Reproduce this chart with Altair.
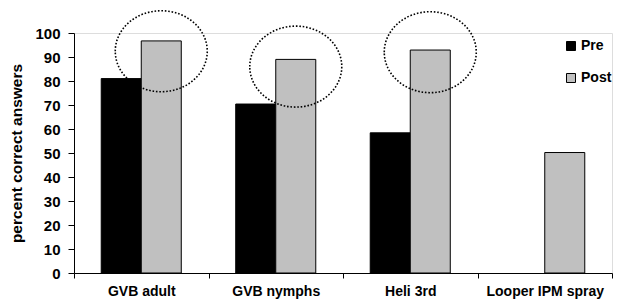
import altair as alt
import pandas as pd

categories = ["GVB adult", "GVB nymphs", "Heli 3rd", "Looper IPM spray"]
pre_values = [81, 70.4, 58.4, None]
post_values = [96.7, 89, 92.9, 50.2]
series_names = ["Pre", "Post"]
series_colors = ["#000000", "#C0C0C0"]
y_ticks = [0, 10, 20, 30, 40, 50, 60, 70, 80, 90, 100]

# dotted ellipses highlighting the post-test bars
ellipse_categories = ["GVB adult", "GVB nymphs", "Heli 3rd"]
ellipse_centers = [92.4, 86, 92]

rows = []
for c, a, b in zip(categories, pre_values, post_values):
    if a is not None:
        rows.append({"category": c, "series": "Pre", "value": a})
    if b is not None:
        rows.append({"category": c, "series": "Post", "value": b})
df = pd.DataFrame(rows)

edf = pd.DataFrame({"category": ellipse_categories, "series": "Post", "value": ellipse_centers})

FONT = "Liberation Sans"

x_enc = alt.X("category:N", sort=categories, title=None,
              scale=alt.Scale(paddingInner=0, paddingOuter=0),
              axis=alt.Axis(labelAngle=0, tickBand="extent", labelFontSize=14,
                            labelFontWeight="bold", labelFont=FONT, labelColor="#000",
                            domainColor="#000", tickColor="#000", tickSize=5,
                            labelPadding=6))
xoff_enc = alt.XOffset("series:N", sort=series_names,
                       scale=alt.Scale(domain=series_names, paddingInner=0, paddingOuter=0.68))
y_enc = alt.Y("value:Q", title="percent correct answers",
              scale=alt.Scale(domain=[0, 100], nice=False),
              axis=alt.Axis(values=y_ticks, tickCount=11, grid=False, labelOverlap=False,
                            labelFontSize=15, labelFontWeight="bold",
                            labelFont=FONT, labelColor="#000", domainColor="#000",
                            tickColor="#000", tickSize=6, labelPadding=8,
                            titleFont=FONT, titleFontSize=15.5, titleFontWeight="bold",
                            titleColor="#000", titlePadding=10))

bars = alt.Chart(df).mark_bar(stroke="#000", strokeWidth=1).encode(
    x=x_enc,
    xOffset=xoff_enc,
    y=y_enc,
    color=alt.Color("series:N", sort=series_names,
                    scale=alt.Scale(domain=series_names, range=series_colors),
                    legend=alt.Legend(title=None, orient="none", legendX=490, legendY=6,
                                      symbolType="square", symbolSize=81,
                                      symbolStrokeColor="#000", symbolStrokeWidth=1,
                                      labelFont=FONT, labelFontSize=14,
                                      labelFontWeight="bold", labelColor="#000",
                                      rowPadding=18, padding=0, labelOffset=3)),
)

ellipse_path = "M -1 0 A 1 0.88 0 1 1 1 0 A 1 0.88 0 1 1 -1 0 Z"
ellipses = alt.Chart(edf).mark_point(
    shape=ellipse_path, size=8464, filled=False, stroke="#000",
    strokeWidth=1.6, strokeDash=[1.6, 1.8], opacity=1, dx=-2
).encode(
    x=x_enc,
    xOffset=xoff_enc,
    y=y_enc,
)

chart = alt.layer(bars, ellipses).properties(
    width=538, height=240,
    autosize=alt.AutoSizeParams(type="none"),
    padding={"left": 66, "top": 25, "right": 2, "bottom": 26},
).configure_view(stroke=None).configure(background="white")

chart.save("out.html", embed_options={"renderer": "svg", "actions": False})
